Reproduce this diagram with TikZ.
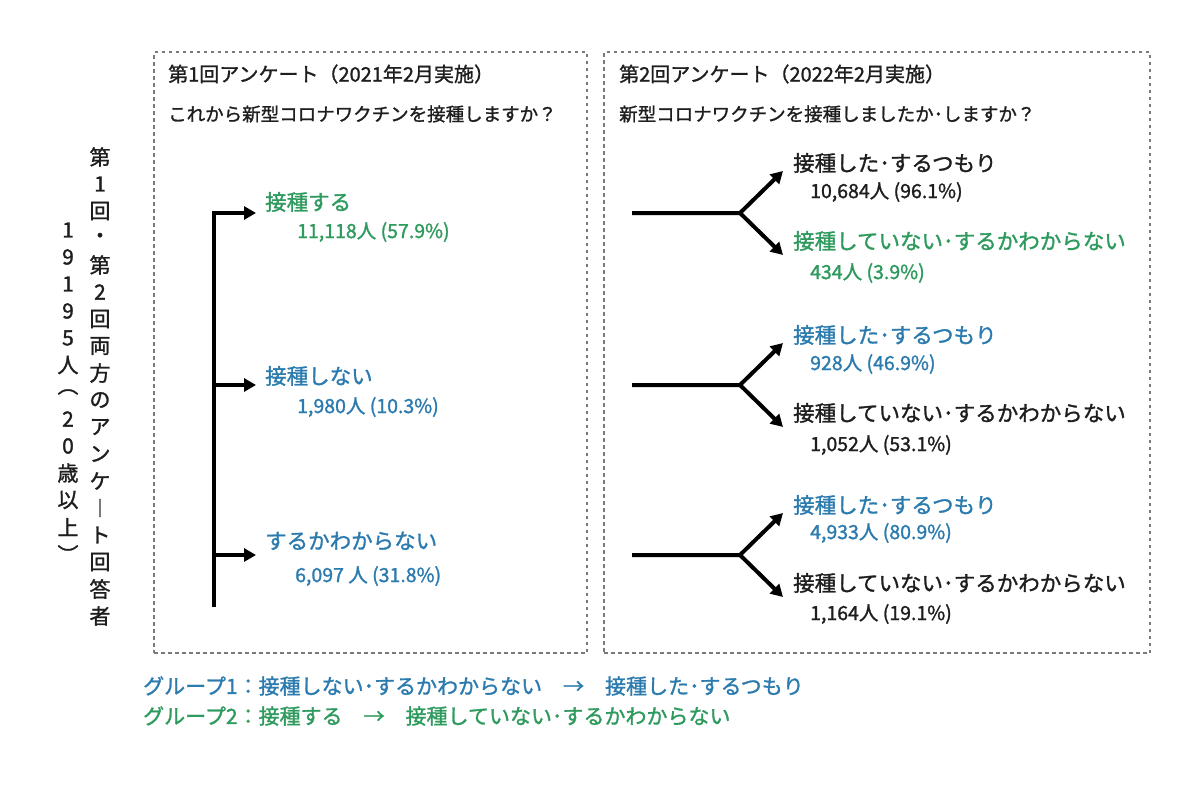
\documentclass[tikz,border=0pt]{standalone}
\usepackage{fontspec}
\setmainfont{Noto Sans CJK JP}[FakeBold=1.3]
\usetikzlibrary{arrows.meta}
\definecolor{qblue}{HTML}{2C7BAF}
\definecolor{qgreen}{HTML}{2E9A5E}
\definecolor{ink}{HTML}{1E1E1E}
\definecolor{framec}{HTML}{7A7A7A}
\newcommand{\fsz}[1]{\fontsize{#1}{#1}\selectfont}
\begin{document}
\begin{tikzpicture}[x=1pt,y=-1pt,
  panel/.style={draw=framec, line width=2.4pt, dash pattern=on 3.5pt off 3.5pt, inner sep=0pt, anchor=north west},
  title/.style={anchor=west, inner sep=0pt, text=ink, font=\fsz{20}},
  ques/.style={anchor=west, inner sep=0pt, text=ink, font=\fsz{18.5}},
  lab/.style={anchor=west, inner sep=0pt, font=\fsz{21.5}},
  num/.style={anchor=west, inner sep=0pt, font=\fsz{19.5}},
  vch/.style={inner sep=0pt, text=ink, font=\fsz{21}},
  flow/.style={line width=4pt, draw=black},
  tip/.style={-{Triangle[length=12pt,width=13pt]}},
  leg/.style={anchor=west, inner sep=0pt, font=\fsz{21}}]
\useasboundingbox[fill=white] (0,0) rectangle (1200,792);

% panels
\node[panel, minimum width=433pt, minimum height=601pt] (p1) at (153,51) {};
\node[panel, minimum width=546pt, minimum height=601pt] (p2) at (603,51) {};

% headings
\node[title] (h1) at (168,74) {第1回アンケート（2021年2月実施）};
\node[ques] (q1) at (168,114) {これから新型コロナワクチンを接種しますか？};
\node[title] (h2) at (619,74) {第2回アンケート（2022年2月実施）};
\node[ques] (q2) at (619,114) {新型コロナワクチンを接種しましたか･しますか？};

% vertical text
\foreach \c [count=\i] in {第,1,回,・,第,2,回,両,方,の,ア,ン,ケ,︱,ト,回,答,者}
  \node[vch] (va\i) at (100,{157+27*(\i-1)}) {\c};
\foreach \c [count=\i] in {1,9,1,9,5,人,︵,2,0,歳,以,上,︶}
  \node[vch] (vb\i) at (68,{230+27*(\i-1)}) {\c};

% left tree
\coordinate (lb) at (214,607);
\coordinate (j1) at (214,213);
\coordinate (j2) at (214,385);
\coordinate (j3) at (214,555);
\coordinate (a1) at (256,213);
\coordinate (a2) at (256,385);
\coordinate (a3) at (256,555);
\draw[flow,tip] (lb) -- (j1) -- (a1);
\draw[flow,tip] (j2) -- (a2);
\draw[flow,tip] (j3) -- (a3);

\node[lab, text=qgreen] (s1) at (265,202) {接種する};
\node[num, text=qgreen] (n1) at (297,232) {11,118人 (57.9\%)};
\node[lab, text=qblue] (s2) at (265,376) {接種しない};
\node[num, text=qblue] (n2) at (297,407) {1,980人 (10.3\%)};
\node[lab, text=qblue] (s3) at (265,541) {するかわからない};
\node[num, text=qblue] (n3) at (295,576) {6,097 人 (31.8\%)};

% right trees
\foreach \g/\Y in {1/213,2/385,3/555}{
  \coordinate (g\g s) at (632,\Y);
  \coordinate (g\g m) at (740,\Y);
  \coordinate (g\g u) at (783,\Y-42);
  \coordinate (g\g d) at (783,\Y+42);
  \draw[flow,tip] (g\g s) -- (g\g m) -- (g\g u);
  \draw[flow,tip,line cap=round] (g\g m) -- (g\g d);
}

\node[lab, text=ink] (u1) at (793,163) {接種した･するつもり};
\node[num, text=ink] (un1) at (810,192) {10,684人 (96.1\%)};
\node[lab, text=qgreen] (d1) at (793,241) {接種していない･するかわからない};
\node[num, text=qgreen] (dn1) at (810,273) {434人 (3.9\%)};

\node[lab, text=qblue] (u2) at (793,335) {接種した･するつもり};
\node[num, text=qblue] (un2) at (810,364) {928人 (46.9\%)};
\node[lab, text=ink] (d2) at (793,413) {接種していない･するかわからない};
\node[num, text=ink] (dn2) at (810,445) {1,052人 (53.1\%)};

\node[lab, text=qblue] (u3) at (793,505) {接種した･するつもり};
\node[num, text=qblue] (un3) at (810,533) {4,933人 (80.9\%)};
\node[lab, text=ink] (d3) at (793,583) {接種していない･するかわからない};
\node[num, text=ink] (dn3) at (810,614) {1,164人 (19.1\%)};

% legend
\node[leg, text=qblue] (k1) at (143,686) {グループ1：接種しない･するかわからない　→　接種した･するつもり};
\node[leg, text=qgreen] (k2) at (143,716) {グループ2：接種する　→　接種していない･するかわからない};
\end{tikzpicture}
\end{document}
